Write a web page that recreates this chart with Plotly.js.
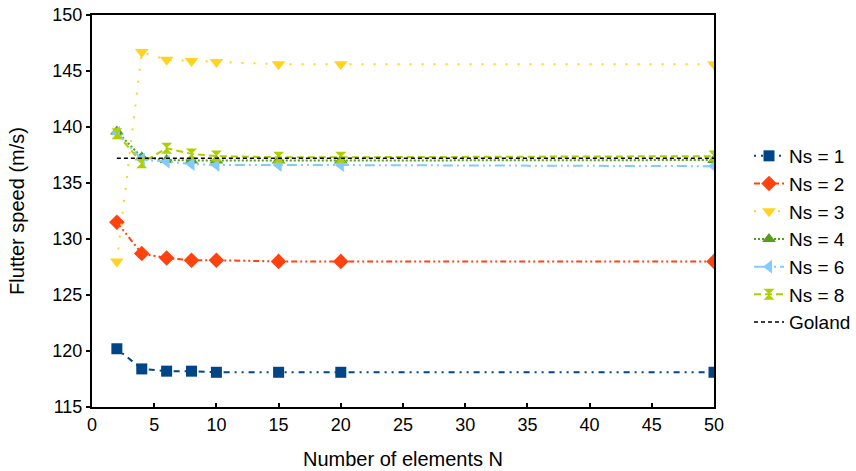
<!DOCTYPE html>
<html><head><meta charset="utf-8">
<script src="https://cdn.plot.ly/plotly-3.0.1.min.js"></script>
<style>html,body{margin:0;padding:0;background:#fff}#chart{width:856px;height:471px}</style>
</head><body><div id="chart"></div>
<script>
const N = [2, 4, 6, 8, 10, 15, 20, 50];
const ns1 = [120.2, 118.4, 118.2, 118.2, 118.1, 118.1, 118.1, 118.1];
const ns2 = [131.5, 128.7, 128.3, 128.1, 128.1, 128.0, 128.0, 128.0];
const ns3 = [128.0, 146.7, 146.0, 145.9, 145.8, 145.6, 145.6, 145.6];
const ns4 = [139.6, 137.3, 137.05, 137.0, 137.0, 137.0, 137.0, 137.05];
const ns6 = [139.5, 137.1, 136.9, 136.7, 136.6, 136.6, 136.6, 136.5];
const ns8 = [139.4, 136.8, 138.1, 137.6, 137.4, 137.3, 137.3, 137.4];
const golandX = [2, 50];
const golandY = [137.2, 137.2];
const names = ["Ns = 1", "Ns = 2", "Ns = 3", "Ns = 4", "Ns = 6", "Ns = 8", "Goland"];

function tr(y, name, color, symbol, dash, size) {
  return {x: N, y: y, name: name, mode: 'lines+markers', type: 'scatter',
    line: {color: color, width: 2, dash: dash},
    marker: {color: color, symbol: symbol, size: size}};
}
const data = [
  tr(ns1, names[0], '#004586', 'square', '2px,5px,2px,5px,6px,5px', 11),
  tr(ns2, names[1], '#ff420e', 'diamond', '6px,3px,2px,3px,2px,3px', 12),
  tr(ns3, names[2], '#ffd320', 'triangle-down', '2px,10px', 12),
  tr(ns4, names[3], '#579d1c', 'triangle-up', '2px,2px', 12),
  tr(ns6, names[4], '#83caff', 'triangle-left', '10px,4px,2px,4px,2px,4px', 12),
  tr(ns8, names[5], '#aecf00', 'hourglass', '7px,4px', 11),
  {x: golandX, y: golandY, name: names[6], mode: 'lines', type: 'scatter',
    line: {color: '#000000', width: 1.5, dash: '4px,3px'}}
];
const layout = {
  width: 856, height: 471,
  margin: {l: 92, r: 142, t: 15, b: 64},
  paper_bgcolor: '#fff', plot_bgcolor: '#fff',
  font: {family: 'Liberation Sans, Arial, sans-serif', size: 18, color: '#000'},
  xaxis: {range: [0, 50], tickvals: [0,5,10,15,20,25,30,35,40,45,50], showgrid: false, zeroline: false,
    showline: true, mirror: true, linecolor: '#000', linewidth: 2, ticks: 'inside', ticklen: 4, tickwidth: 2, tickcolor: '#000',
    tickfont: {size: 18},
    title: {text: 'Number of elements N', font: {size: 20}, standoff: 18}},
  yaxis: {range: [115, 150], dtick: 5, showgrid: false, zeroline: false,
    showline: true, mirror: true, linecolor: '#000', linewidth: 2, ticks: 'outside', ticklen: 4, tickwidth: 2, tickcolor: '#000',
    tickfont: {size: 18},
    title: {text: 'Flutter speed (m/s)', font: {size: 20}, standoff: 22}},
  legend: {xref: 'container', yref: 'container', x: 0.875, y: 0.4926, xanchor: 'left', yanchor: 'middle',
    font: {size: 19}, tracegroupgap: 0, itemwidth: 30, bgcolor: 'rgba(0,0,0,0)'},
  showlegend: true
};
Plotly.newPlot('chart', data, layout, {displayModeBar: false, staticPlot: true});
</script></body></html>
